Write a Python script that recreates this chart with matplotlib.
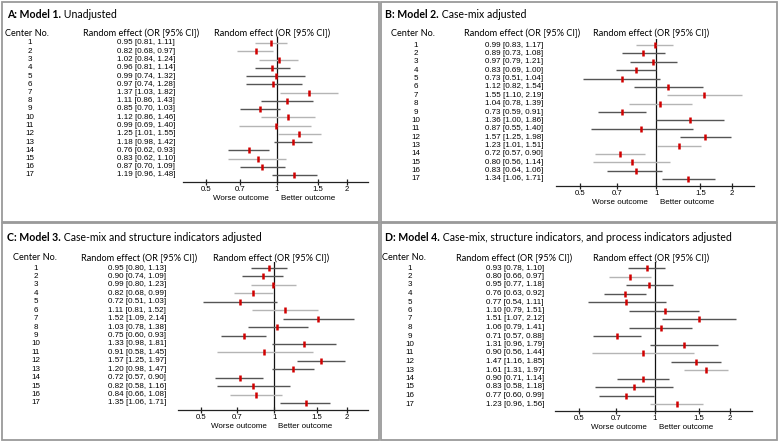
import matplotlib
matplotlib.use('Agg')
import matplotlib.pyplot as plt
from matplotlib.transforms import blended_transform_factory
from matplotlib.patches import Rectangle

W, H = 778, 441

centers = list(range(1, 18))

# Model 1. Unadjusted
m1_or = [0.95, 0.82, 1.02, 0.96, 0.99, 0.97, 1.37, 1.11, 0.85, 1.12, 0.99, 1.25, 1.18, 0.76, 0.83, 0.87, 1.19]
m1_lo = [0.81, 0.68, 0.84, 0.81, 0.74, 0.74, 1.03, 0.86, 0.70, 0.86, 0.69, 1.01, 0.98, 0.62, 0.62, 0.70, 0.96]
m1_hi = [1.11, 0.97, 1.24, 1.14, 1.32, 1.28, 1.82, 1.43, 1.03, 1.46, 1.40, 1.55, 1.42, 0.93, 1.10, 1.09, 1.48]

# Model 2. Case-mix adjusted
m2_or = [0.99, 0.89, 0.97, 0.83, 0.73, 1.12, 1.55, 1.04, 0.73, 1.36, 0.87, 1.57, 1.23, 0.72, 0.80, 0.83, 1.34]
m2_lo = [0.83, 0.73, 0.79, 0.69, 0.51, 0.82, 1.10, 0.78, 0.59, 1.00, 0.55, 1.25, 1.01, 0.57, 0.56, 0.64, 1.06]
m2_hi = [1.17, 1.08, 1.21, 1.00, 1.04, 1.54, 2.19, 1.39, 0.91, 1.86, 1.40, 1.98, 1.51, 0.90, 1.14, 1.06, 1.71]

# Model 3. Case-mix and structure indicators adjusted
m3_or = [0.95, 0.90, 0.99, 0.82, 0.72, 1.11, 1.52, 1.03, 0.75, 1.33, 0.91, 1.57, 1.20, 0.72, 0.82, 0.84, 1.35]
m3_lo = [0.80, 0.74, 0.80, 0.68, 0.51, 0.81, 1.09, 0.78, 0.60, 0.98, 0.58, 1.25, 0.98, 0.57, 0.58, 0.66, 1.06]
m3_hi = [1.13, 1.09, 1.23, 0.99, 1.03, 1.52, 2.14, 1.38, 0.93, 1.81, 1.45, 1.97, 1.47, 0.90, 1.16, 1.08, 1.71]

# Model 4. Case-mix, structure indicators, and process indicators adjusted
m4_or = [0.93, 0.80, 0.95, 0.76, 0.77, 1.10, 1.51, 1.06, 0.71, 1.31, 0.90, 1.47, 1.61, 0.90, 0.83, 0.77, 1.23]
m4_lo = [0.78, 0.66, 0.77, 0.63, 0.54, 0.79, 1.07, 0.79, 0.57, 0.96, 0.56, 1.16, 1.31, 0.71, 0.58, 0.60, 0.96]
m4_hi = [1.10, 0.97, 1.18, 0.92, 1.11, 1.51, 2.12, 1.41, 0.88, 1.79, 1.44, 1.85, 1.97, 1.14, 1.18, 0.99, 1.56]

ticks = [0.5, 0.7, 1, 1.5, 2]
tick_labels = ['0.5', '0.7', '1', '1.5', '2']

# line shade per row (L = light grey, D = dark grey)
shades = [
    "LLLDDDLDDLLLDDLDD",
    "LDDDDDLLDDDDLLLDD",
    "DDLLDLDDDDLDDDDLD",
    "DLDDDDDDDDLDLDDDL",
]

panels = [
    dict(bold="A: Model 1.", rest=" Unadjusted", data=(m1_or, m1_lo, m1_hi),
         title=(7, 14), head_y=33, cn_head=27, cn_x=30, val_head=141, val_x=146, plot_head=272,
         ax=(183, 368), top=37, axis=182, rows=(43, 175)),
    dict(bold="B: Model 2.", rest=" Case-mix adjusted", data=(m2_or, m2_lo, m2_hi),
         title=(385, 14), head_y=33, cn_head=413, cn_x=416, val_head=522, val_x=514, plot_head=651,
         ax=(556, 754), top=39, axis=186, rows=(45, 179)),
    dict(bold="C: Model 3.", rest=" Case-mix and structure indicators adjusted", data=(m3_or, m3_lo, m3_hi),
         title=(7, 237), head_y=258, cn_head=35, cn_x=36, val_head=139, val_x=137, plot_head=271,
         ax=(178, 368), top=262, axis=410, rows=(268, 403)),
    dict(bold="D: Model 4.", rest=" Case-mix, structure indicators, and process indicators adjusted",
         data=(m4_or, m4_lo, m4_hi),
         title=(385, 237), head_y=258, cn_head=404, cn_x=410, val_head=514, val_x=515, plot_head=651,
         ax=(555, 752), top=262, axis=411, rows=(268, 404)),
]

frames = [(1.5, 1.5, 379, 222), (380.5, 1.5, 776.5, 222), (1.5, 223, 379, 439.5), (380.5, 223, 776.5, 439.5)]

HEAD_FONT = ['Lato', 'DejaVu Sans']
NUM_FONT = ['Liberation Sans', 'DejaVu Sans']


def fx(x):
    return x / W


def fy(y):
    return 1 - y / H


fig = plt.figure(figsize=(W / 100, H / 100), dpi=100)
renderer = fig.canvas.get_renderer()

for (x0, y0, x1, y1) in frames:
    fig.add_artist(Rectangle((fx(x0), fy(y1)), fx(x1) - fx(x0), fy(y0) - fy(y1),
                             transform=fig.transFigure, fill=False, ec='#9a9a9a', lw=1.3))

for p, shade in zip(panels, shades):
    ors, los, his = p['data']
    x0, x1 = p['ax']
    r1, r17 = p['rows']
    step = (r17 - r1) / 16.0
    ax = fig.add_axes([fx(x0), fy(p['axis']), (x1 - x0) / W, (p['axis'] - p['top']) / H])
    ax.set_xscale('log')
    ax.set_xlim(0.40, 2.45)
    ax.set_ylim(17 + (p['axis'] - r17) / step, 1 - (r1 - p['top']) / step)
    for s in ['top', 'left', 'right']:
        ax.spines[s].set_visible(False)
    ax.spines['bottom'].set_linewidth(0.9)
    ax.spines['bottom'].set_color('#222222')
    ax.set_yticks([])
    ax.set_xticks(ticks)
    ax.set_xticklabels(tick_labels)
    ax.minorticks_off()
    ax.tick_params(axis='x', direction='inout', length=5, width=0.9, pad=0.5,
                   labelsize=5.6, color='#222222')
    for lab in ax.get_xticklabels():
        lab.set_family(NUM_FONT)
    ax.patch.set_alpha(0)

    ax.axvline(1, color='#111111', lw=0.9, zorder=1)
    cols = ['#b5b5b5' if c == 'L' else '#555555' for c in shade]
    ax.hlines(centers, los, his, colors=cols, lw=1.0, zorder=2)
    ax.plot(ors, centers, ls='none', marker='|', ms=5, mew=1.8, color='#d10000', zorder=3)

    ax.annotate('Worse outcome', xy=(0.93, 0), xycoords=('data', 'axes fraction'),
                xytext=(0, -12), textcoords='offset points', ha='right', va='center',
                fontsize=5.8, family=NUM_FONT)
    ax.annotate('Better outcome', xy=(1.04, 0), xycoords=('data', 'axes fraction'),
                xytext=(0, -12), textcoords='offset points', ha='left', va='center',
                fontsize=5.8, family=NUM_FONT)

    # text columns, aligned with the rows
    tr = blended_transform_factory(fig.transFigure, ax.transData)
    for c, o, lo, hi in zip(centers, ors, los, his):
        fig.text(fx(p['cn_x']), c, str(c), transform=tr, ha='center', va='center',
                 fontsize=5.8, family=NUM_FONT)
        fig.text(fx(p['val_x']), c, f"{o:.2f} [{lo:.2f}, {hi:.2f}]", transform=tr,
                 ha='center', va='center', fontsize=5.8, family=NUM_FONT)

    # headers
    fig.text(fx(p['cn_head']), fy(p['head_y']), 'Center No.', ha='center', va='center',
             fontsize=6.6, family=HEAD_FONT)
    fig.text(fx(p['val_head']), fy(p['head_y']), 'Random effect (OR [95% CI])', ha='center',
             va='center', fontsize=6.6, family=HEAD_FONT)
    fig.text(fx(p['plot_head']), fy(p['head_y']), 'Random effect (OR [95% CI])', ha='center',
             va='center', fontsize=6.6, family=HEAD_FONT)

    # title: bold part then regular part
    tx, ty = p['title']
    tb = fig.text(fx(tx), fy(ty), p['bold'], ha='left', va='center', fontsize=7.6,
                  fontweight='bold', family=HEAD_FONT)
    bb = tb.get_window_extent(renderer=renderer)
    fig.text(bb.x1 / fig.bbox.width, fy(ty), p['rest'], ha='left', va='center', fontsize=7.6,
             family=HEAD_FONT)

fig.savefig('out.png', dpi=100)
